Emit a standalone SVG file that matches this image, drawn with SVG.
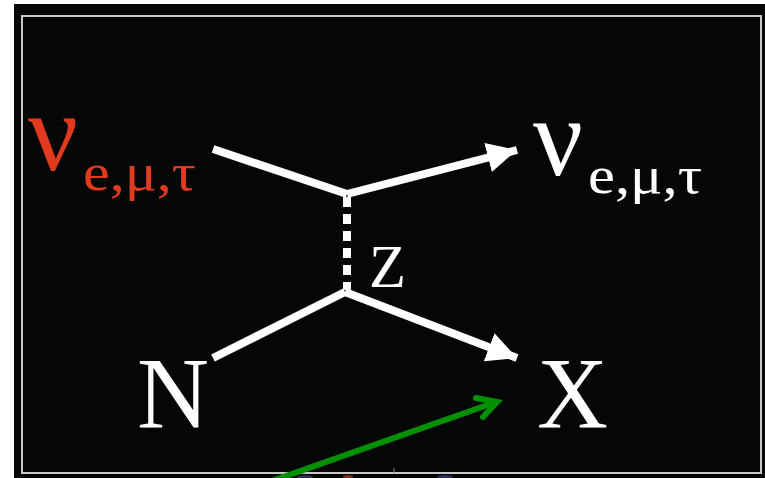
<svg xmlns="http://www.w3.org/2000/svg" width="765" height="478" viewBox="0 0 765 478">
  <defs>
    <style>
      .ser { font-family: "Liberation Serif", "Times New Roman", serif; }
      .wh { fill: #ffffff; }
      .rd { fill: #e23a1f; }
      .ln { stroke: #ffffff; stroke-width: 8; fill: none; }
    </style>
    <marker id="wa" markerUnits="userSpaceOnUse" markerWidth="32" markerHeight="32" refX="28" refY="14" orient="auto" viewBox="0 0 30 28">
      <path d="M0,0 L28,14 L0,28 Z" fill="#ffffff"/>
    </marker>
  </defs>
  <rect x="0" y="0" width="765" height="478" fill="#ffffff"/>
  <rect x="14" y="4" width="751" height="474" fill="#050706"/>
  <rect x="22" y="16" width="739" height="457" fill="none" stroke="#c8c8c8" stroke-width="2"/>
  <line x1="394" y1="468" x2="394" y2="474" stroke="#888" stroke-width="1"/>
  <ellipse cx="305" cy="477" rx="8" ry="2" fill="#4a4a8a" opacity="0.6"/>
  <ellipse cx="348" cy="477" rx="5" ry="2" fill="#c84a2a" opacity="0.6"/>
  <ellipse cx="445" cy="477" rx="8" ry="2" fill="#4a4a8a" opacity="0.6"/>

  <g id="connectors">
    <line class="ln" x1="213" y1="149" x2="347" y2="194"/>
    <line class="ln" x1="347" y1="194" x2="517" y2="150" marker-end="url(#wa)"/>
    <line class="ln" x1="347" y1="197" x2="347" y2="290" stroke-dasharray="10,7"/>
    <line class="ln" x1="213" y1="358" x2="345" y2="292"/>
    <line class="ln" x1="345" y1="292" x2="517" y2="358" marker-end="url(#wa)"/>
    <g id="green-arrow" stroke="#009000" stroke-width="6" fill="none" stroke-linecap="round">
      <line x1="272" y1="481" x2="496" y2="402"/>
      <polyline points="476,398 497,402 483,417"/>
    </g>
  </g>

  <g id="nu-in">
    <text class="ser rd" x="28" y="170" font-size="112" textLength="50" lengthAdjust="spacingAndGlyphs">ν</text>
    <text class="ser rd" x="83" y="190" font-size="52" textLength="113" lengthAdjust="spacingAndGlyphs">e,μ,τ</text>
  </g>
  <g id="nu-out">
    <text class="ser wh" x="533" y="175" font-size="112" textLength="50" lengthAdjust="spacingAndGlyphs">ν</text>
    <text class="ser wh" x="588" y="193" font-size="52" textLength="114" lengthAdjust="spacingAndGlyphs">e,μ,τ</text>
  </g>
  <g id="z">
    <text class="ser wh" x="369" y="287" font-size="62" textLength="37" lengthAdjust="spacingAndGlyphs">Z</text>
  </g>
  <g id="n">
    <text class="ser wh" x="137" y="428" font-size="102" textLength="72" lengthAdjust="spacingAndGlyphs">N</text>
  </g>
  <g id="x">
    <text class="ser wh" x="537" y="428" font-size="102" textLength="71" lengthAdjust="spacingAndGlyphs">X</text>
  </g>
</svg>
